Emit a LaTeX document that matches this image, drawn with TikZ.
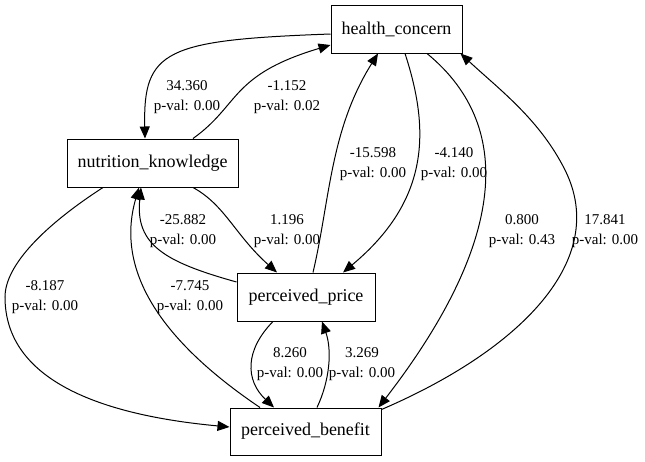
\documentclass[tikz,border=0pt]{standalone}
\usepackage{fontspec}
\setmainfont{Liberation Serif}
\usetikzlibrary{arrows.meta,calc}
\begin{document}
\begin{tikzpicture}[x=1pt,y=-1pt,
  box/.style={draw,line width=1pt,inner sep=0pt,font=\fontsize{18}{22}\selectfont},
  lbl/.style={align=center,inner sep=0pt,font=\fontsize{15}{19.5}\selectfont},
  edge/.style={line width=1pt,-{Triangle[length=12pt,width=10pt]}}]
\useasboundingbox[fill=white] (0,0) rectangle (645,461);
\node[box,minimum width=131pt,minimum height=48pt] (hc) at (396.5,29) {health\_concern};
\node[box,minimum width=171pt,minimum height=48pt] (nk) at (152.5,163) {nutrition\_knowledge};
\node[box,minimum width=138pt,minimum height=48pt] (pp) at (306,297) {perceived\_price};
\node[box,minimum width=151pt,minimum height=47pt] (pb) at (305.5,431.5) {perceived\_benefit};
% edges
\draw[edge] ($(hc.west)+(0,5)$) .. controls (165,40) and (143,50) .. ($(nk.north)+(-7.5,0)$);
\draw[edge] ($(nk.north)+(40.5,0)$) .. controls (240,105) and (230,75) .. ($(hc.west)+(0,16)$);
\draw[edge] ($(hc.south)+(8.5,0)$) .. controls (430,130) and (430,200) .. ($(pp.north)+(37,0)$);
\draw[edge] ($(pp.north)+(7,0)$) .. controls (330,200) and (330,130) .. ($(hc.south)+(-18.5,0)$);
\draw[edge] ($(hc.south)+(30.5,0)$) .. controls (520,130) and (500,250) .. ($(pb.north east)+(-3,0)$);
\draw[edge] ($(pb.north east)+(0,2)$) .. controls (520,350) and (610,260) .. (565,170) .. controls (540,120) and (500,90) .. ($(hc.south east)+(-2,0)$);
\draw[edge] ($(nk.south)+(40.5,0)$) .. controls (225,205) and (235,235) .. ($(pp.north)+(-29,0)$);
\draw[edge] ($(pp.west)+(0,-15)$) .. controls (165,262) and (135,245) .. ($(nk.south)+(-11.5,0)$);
\draw[edge] ($(nk.south)+(-49.5,0)$) .. controls (45,225) and (5,265) .. (5,297) .. controls (5,380) and (100,415) .. ($(pb.west)+(0,-4.5)$);
\draw[edge] ($(pb.north)+(-45.5,0)$) .. controls (160,340) and (115,270) .. ($(nk.south)+(-13.5,0)$);
\draw[edge] ($(pp.south)+(-33,0)$) .. controls (245,350) and (245,380) .. ($(pb.north)+(-31.5,0)$);
\draw[edge] ($(pb.north)+(11.5,0)$) .. controls (330,380) and (332,350) .. ($(pp.south)+(16,0)$);
% labels
\node[lbl] (l1) at (187,97) {34.360\\p-val: 0.00};
\node[lbl] (l2) at (287,97) {-1.152\\p-val: 0.02};
\node[lbl] (l3) at (373,164) {-15.598\\p-val: 0.00};
\node[lbl] (l4) at (454,164) {-4.140\\p-val: 0.00};
\node[lbl] (l5) at (522,231) {0.800\\p-val: 0.43};
\node[lbl] (l6) at (605,231) {17.841\\p-val: 0.00};
\node[lbl] (l7) at (287,231) {1.196\\p-val: 0.00};
\node[lbl] (l8) at (183,231) {-25.882\\p-val: 0.00};
\node[lbl] (l9) at (45,297) {-8.187\\p-val: 0.00};
\node[lbl] (l10) at (190,297) {-7.745\\p-val: 0.00};
\node[lbl] (l11) at (290,364) {8.260\\p-val: 0.00};
\node[lbl] (l12) at (362,364) {3.269\\p-val: 0.00};
\end{tikzpicture}
\end{document}
